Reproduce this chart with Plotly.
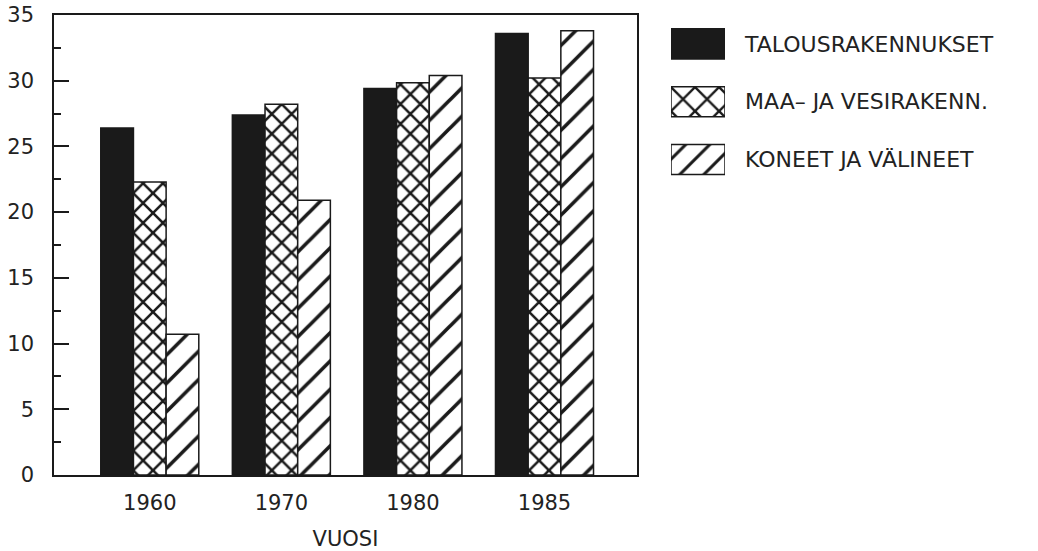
"""
Investments by type, 1960-1985 (grouped bars with hatch fills).
"""
import plotly.graph_objects as go

years = ['1960', '1970', '1980', '1985']
talousrakennukset = [26.4, 27.4, 29.4, 33.6]
maa_ja_vesirakenn = [22.3, 28.2, 29.85, 30.2]
koneet_ja_valineet = [10.7, 20.9, 30.4, 33.8]

series_names = ['TALOUSRAKENNUKSET', 'MAA\u2013 JA VESIRAKENN.', 'KONEET JA VÄLINEET']
y_ticks = [0, 5, 10, 15, 20, 25, 30, 35]

INK = '#1a1a1a'
FONT = dict(family='DejaVu Sans', size=21, color='#222222')

fills = [
    dict(color=INK),
    dict(color='white', pattern=dict(shape='x', size=14, solidity=0.33, fgcolor=INK, bgcolor='white')),
    dict(color='white', pattern=dict(shape='/', size=20, solidity=0.18, fgcolor=INK, bgcolor='white')),
]
legend_fills = [
    dict(color=INK),
    dict(color='white', pattern=dict(shape='x', size=17, solidity=0.26, fgcolor=INK, bgcolor='white')),
    dict(color='white', pattern=dict(shape='/', size=17, solidity=0.18, fgcolor=INK, bgcolor='white')),
]

fig = go.Figure()

# main bars
for name, values, fill in zip(series_names, [talousrakennukset, maa_ja_vesirakenn, koneet_ja_valineet], fills):
    fig.add_trace(go.Bar(
        x=years, y=values, name=name,
        marker=dict(line=dict(color=INK, width=1.5), **fill),
    ))

# legend drawn as a small side panel so the swatches can be large
for name, fill in zip(series_names, legend_fills):
    fig.add_trace(go.Bar(
        x=[1], y=[name], orientation='h', width=0.52, offset=-0.26,
        xaxis='x2', yaxis='y2', hoverinfo='skip',
        marker=dict(line=dict(color=INK, width=1.5), **fill),
    ))

fig.update_layout(
    template='none',
    width=1038, height=551,
    margin=dict(l=54, r=10, t=15, b=76, autoexpand=False),
    paper_bgcolor='white', plot_bgcolor='white',
    barmode='group', bargap=0.255, bargroupgap=0,
    showlegend=False,
    font=FONT,
    xaxis=dict(
        domain=[0, 583 / 974], type='category', range=[-0.728, 3.703], automargin=False,
        showline=True, linecolor=INK, linewidth=1.5, mirror=True,
        ticks='', showgrid=False, ticklabelstandoff=8,
        title=dict(text='VUOSI', standoff=25, font=FONT),
    ),
    yaxis=dict(
        range=[0, 35], tickvals=y_ticks, automargin=False, ticklabeloverflow='allow',
        showline=True, linecolor=INK, linewidth=1.5, mirror=True,
        ticks='inside', ticklen=15, tickwidth=1.5, tickcolor=INK,
        minor=dict(dtick=2.5, ticks='inside', ticklen=7, tickwidth=1.5, tickcolor=INK, showgrid=False),
        showgrid=False, zeroline=False, ticklabelstandoff=14,
    ),
    xaxis2=dict(
        domain=[617 / 974, 671 / 974], anchor='y2', range=[0, 1], automargin=False,
        visible=False, fixedrange=True,
    ),
    yaxis2=dict(
        domain=[0.623, 1.0], anchor='x2', type='category', range=[2.5, -0.5],
        side='right', showline=False, showgrid=False, zeroline=False, ticks='',
        automargin=False, ticklabelstandoff=19,
        tickfont=dict(family='DejaVu Sans', size=22, color='#222222'),
        fixedrange=True,
    ),
)

# drop the default 8px page margin so the figure sits at the window's corner
fig.write_html("out.html", config={'displayModeBar': False},
               post_script="document.body.style.margin = '0';")
